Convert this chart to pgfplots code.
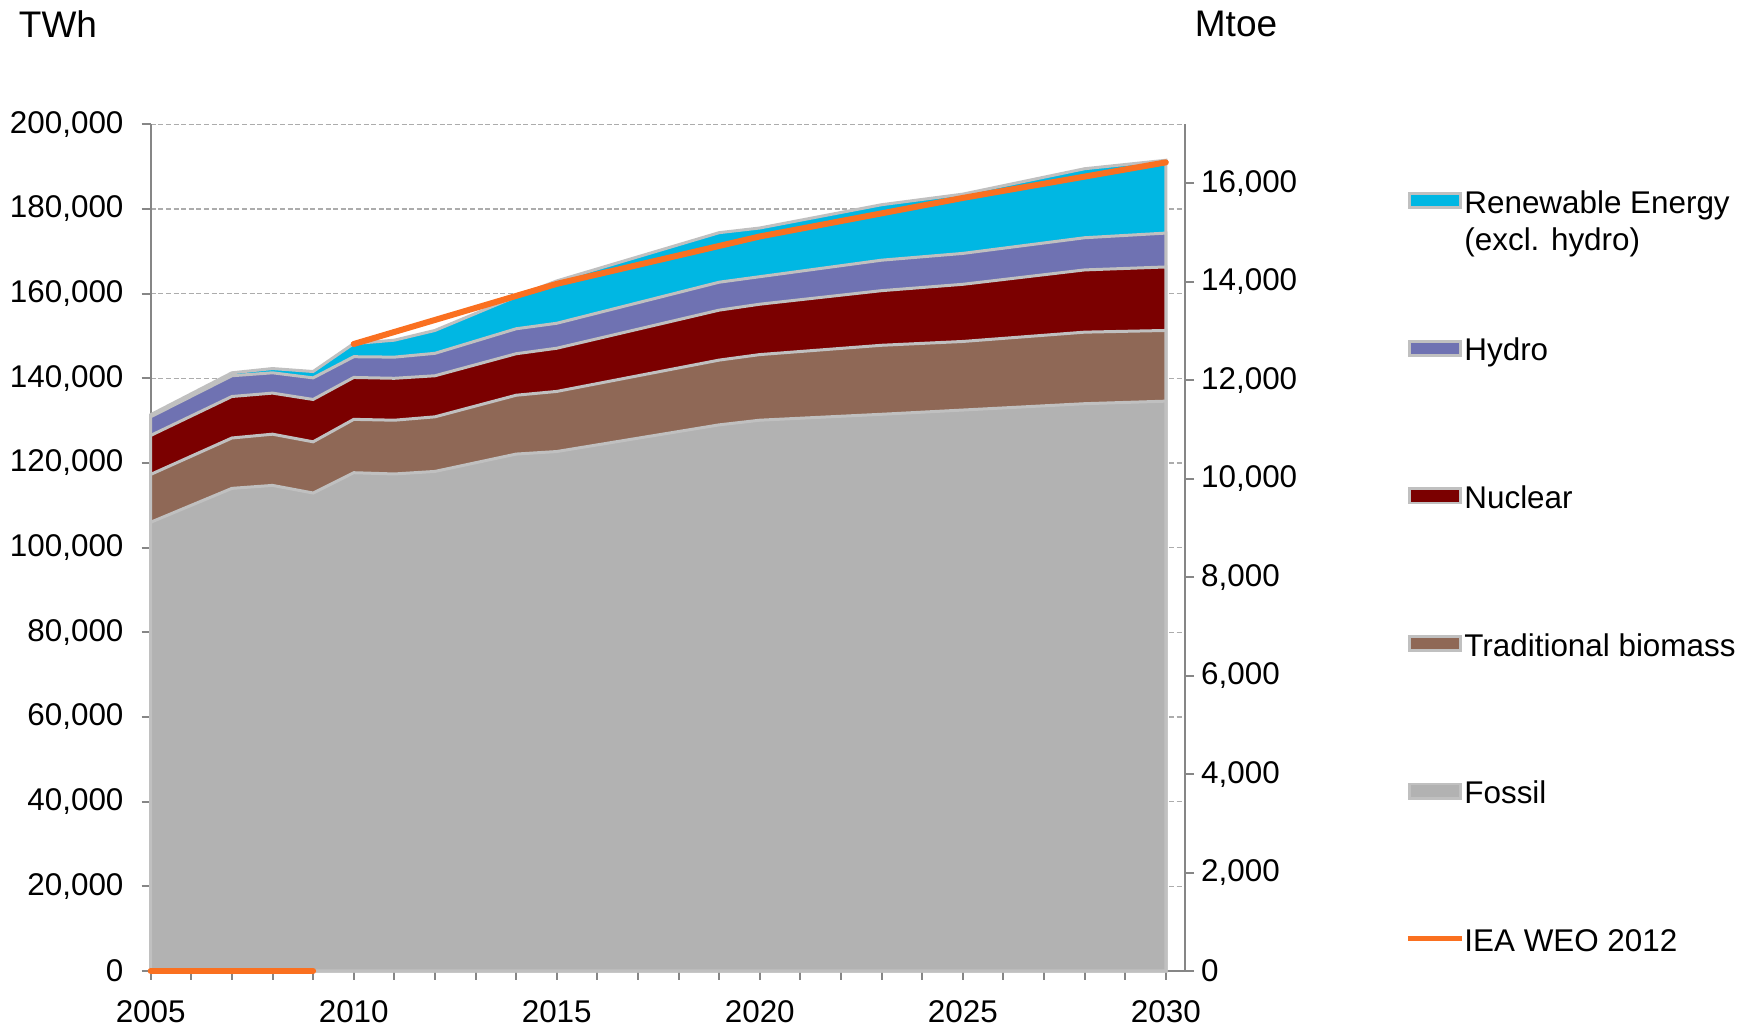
\documentclass[border=0pt]{standalone}
\usepackage{fontspec}
\setmainfont{Liberation Sans}
\usepackage{pgfplots}
\pgfplotsset{compat=1.18}
\usepackage{pgfplotstable}

\definecolor{reC}{RGB}{0,183,227}
\definecolor{hyC}{RGB}{111,114,178}
\definecolor{nuC}{RGB}{123,0,0}
\definecolor{biC}{RGB}{143,104,86}
\definecolor{foC}{RGB}{178,178,178}
\definecolor{edgeC}{RGB}{192,192,192}
\definecolor{ieaC}{RGB}{250,112,32}
\definecolor{axC}{RGB}{134,134,134}
\definecolor{gridC}{RGB}{172,172,172}

\pgfplotsset{
  areaimg/.style={legend image code/.code={\draw[##1, line width=1.4pt] (0.7pt,-3.55pt) rectangle (26.3pt,3.55pt);}},
  lineimg/.style={legend image code/.code={\draw[##1, line width=2.5pt, line cap=butt] (0pt,0pt) -- (27pt,0pt);}},
}

% cumulative tops of the stacked areas (TWh)
\pgfplotstableread{
year fossil bio nuc hydro re
2005 106000 117300 126500 130900 131400
2007 114000 125900 135700 140600 141300
2008 114700 126800 136500 141300 142300
2009 112900 125000 135000 140100 141600
2010 117700 130300 140200 145100 148200
2011 117400 130100 140000 145000 149000
2012 118000 130900 140600 145900 151300
2014 122100 136000 145800 151700 159300
2015 122700 136900 147100 153000 163000
2019 129000 144300 156100 162700 174400
2020 130100 145600 157500 164000 175500
2023 131500 147800 160700 167900 181000
2025 132500 148700 162200 169500 183500
2028 134000 150900 165600 173200 189500
2030 134600 151300 166300 174300 191500
}\energy

\pgfplotstableread{
year iea
2010 148100
2015 162300
2020 173500
2025 182600
2030 191000
}\iea

\pgfplotstableread{
year iea
2005 0
2009 0
}\ieazero

\newcommand\fnt{\fontsize{15.7}{18.8}\selectfont}
\newcommand\tfnt{\fontsize{18.5}{22}\selectfont}
\newcommand\legtxt[1]{\rule[-3.2pt]{0pt}{17.2pt}#1}

\begin{document}
\begin{tikzpicture}[font=\fnt]
\path[use as bounding box] (0,0) rectangle (874pt,515.5pt);
\node[inner sep=0pt, font=\tfnt] at (29pt,503.5pt) {TWh};
\node[inner sep=0pt, font=\tfnt] at (618pt,503.5pt) {Mtoe};
\begin{axis}[
  at={(75.35pt,30pt)}, anchor=south west,
  scale only axis, width=517.2pt, height=423.35pt,
  xmin=2005, xmax=2030.475, ymin=0, ymax=200000,
  axis y line*=left, axis x line*=bottom,
  axis line style={axC, line width=1pt, -},
  xtick={2005,2010,2015,2020,2025,2030},
  xticklabels={2005,2010,2015,2020,2025,2030},
  minor xtick={2006,2007,2008,2009,2011,2012,2013,2014,2016,2017,2018,2019,2021,2022,2023,2024,2026,2027,2028,2029},
  ytick={0,20000,40000,60000,80000,100000,120000,140000,160000,180000,200000},
  yticklabels={0,{20,000},{40,000},{60,000},{80,000},{100,000},{120,000},{140,000},{160,000},{180,000},{200,000}},
  scaled y ticks=false, scaled x ticks=false,
  tick align=outside, major tick length=4.5pt, minor tick length=4.5pt,
  every tick/.style={axC, line width=1pt},
  minor tick style={axC, line width=1pt},
  ymajorgrids, grid style={gridC, line width=0.7pt, dash pattern=on 2.5pt off 1.3pt},
  tick label style={font=\fnt},
  yticklabel style={xshift=-5.6pt},
  xticklabel style={yshift=-6.7pt},
  clip=false,
  legend cell align=left,
  legend style={at={(1.2126,0.9285)}, anchor=north west, draw=none, fill=none,
    inner sep=0pt, row sep=58.3pt, column sep=0pt,
    nodes={inner sep=0pt, font=\fnt}},
]
\addplot[fill=reC, draw=edgeC, line width=1.5pt, areaimg]
  table[x=year, y=re] {\energy} \closedcycle;
\addlegendentry{\legtxt{\rlap{\raisebox{-18.5pt}[0pt][0pt]{(excl. hydro)}}Renewable Energy}}
\addplot[fill=hyC, draw=edgeC, line width=1.5pt, areaimg]
  table[x=year, y=hydro] {\energy} \closedcycle;
\addlegendentry{\legtxt{Hydro}}
\addplot[fill=nuC, draw=edgeC, line width=1.5pt, areaimg]
  table[x=year, y=nuc] {\energy} \closedcycle;
\addlegendentry{\legtxt{Nuclear}}
\addplot[fill=biC, draw=edgeC, line width=1.5pt, areaimg]
  table[x=year, y=bio] {\energy} \closedcycle;
\addlegendentry{\legtxt{Traditional biomass}}
\addplot[fill=foC, draw=edgeC, line width=1.5pt, areaimg]
  table[x=year, y=fossil] {\energy} \closedcycle;
\addlegendentry{\legtxt{Fossil}}
\addplot[ieaC, line width=3pt, line cap=round, forget plot]
  table[x=year, y=iea] {\ieazero};
\addplot[ieaC, line width=3pt, line cap=round, lineimg]
  table[x=year, y=iea] {\iea};
\addlegendentry{\legtxt{IEA WEO 2012}}
\end{axis}
\begin{axis}[
  at={(75.35pt,30pt)}, anchor=south west,
  scale only axis, width=517.2pt, height=423.35pt,
  xmin=2005, xmax=2030.475, ymin=0, ymax=17196.9,
  axis y line*=right, axis x line=none,
  axis line style={axC, line width=1pt, -},
  ytick={0,2000,4000,6000,8000,10000,12000,14000,16000},
  yticklabels={0,{2,000},{4,000},{6,000},{8,000},{10,000},{12,000},{14,000},{16,000}},
  scaled y ticks=false, scaled x ticks=false,
  tick align=outside, major tick length=4.5pt,
  every tick/.style={axC, line width=1pt},
  tick label style={font=\fnt},
]
\addplot[draw=none] coordinates {(2005,0)};
\end{axis}
\end{tikzpicture}
\end{document}
